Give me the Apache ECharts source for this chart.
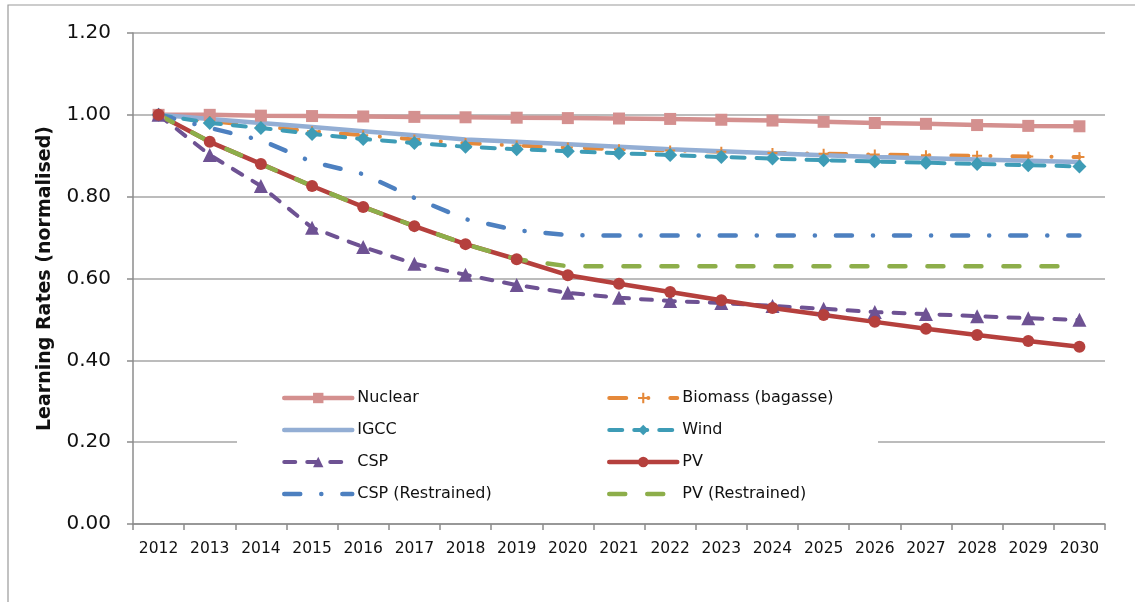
<!DOCTYPE html>
<html>
<head>
<meta charset="utf-8">
<script src="https://cdn.jsdelivr.net/npm/echarts@6/dist/echarts.min.js"></script>
<style>
  html, body { margin: 0; padding: 0; background: #fff; }
  #chart { width: 1135px; height: 602px; }
</style>
</head>
<body>
<div id="chart"></div>
<script>
var years = ['2012', '2013', '2014', '2015', '2016', '2017', '2018', '2019', '2020', '2021',
  '2022', '2023', '2024', '2025', '2026', '2027', '2028', '2029', '2030'];

var nuclear = [1.000, 1.000, 0.998, 0.997, 0.996, 0.995, 0.994, 0.993, 0.992, 0.991,
  0.990, 0.988, 0.986, 0.983, 0.980, 0.978, 0.975, 0.973, 0.972];
var biomass = [1.000, 0.985, 0.972, 0.960, 0.950, 0.940, 0.931, 0.925, 0.920, 0.916,
  0.913, 0.910, 0.907, 0.905, 0.903, 0.901, 0.900, 0.898, 0.897];
var igcc = [1.000, 0.990, 0.980, 0.970, 0.960, 0.950, 0.940, 0.934, 0.928, 0.922,
  0.916, 0.911, 0.906, 0.901, 0.897, 0.894, 0.891, 0.888, 0.885];
var wind = [1.000, 0.980, 0.968, 0.953, 0.941, 0.931, 0.922, 0.916, 0.911, 0.906,
  0.902, 0.897, 0.893, 0.889, 0.886, 0.883, 0.880, 0.877, 0.874];
var csp = [1.000, 0.902, 0.826, 0.724, 0.677, 0.636, 0.609, 0.584, 0.565, 0.553,
  0.545, 0.540, 0.533, 0.526, 0.518, 0.513, 0.508, 0.503, 0.499];
var pv = [1.000, 0.934, 0.880, 0.826, 0.775, 0.728, 0.684, 0.647, 0.608, 0.587,
  0.567, 0.547, 0.528, 0.511, 0.494, 0.477, 0.462, 0.447, 0.433];
var cspRestrained = [1.000, 0.968, 0.938, 0.885, 0.855, 0.797, 0.745, 0.718, 0.706, 0.705,
  0.705, 0.705, 0.705, 0.705, 0.705, 0.705, 0.705, 0.705, 0.705];
var pvRestrained = [1.000, 0.934, 0.880, 0.826, 0.775, 0.728, 0.684, 0.647, 0.630, 0.630,
  0.630, 0.630, 0.630, 0.630, 0.630, 0.630, 0.630, 0.630, 0.630];

var yTicks = [0, 0.2, 0.4, 0.6, 0.8, 1.0, 1.2];

var font = '"DejaVu Sans", sans-serif';
var plusPath = 'path://M4,0H6V4H10V6H6V10H4V6H0V4H4Z';
var noMarker = { opacity: 0 };

function lineSeries(name, data, color, width, dash, symbol, size) {
  return {
    name: name,
    type: 'line',
    data: data,
    symbol: symbol || 'none',
    symbolSize: size || 0,
    showSymbol: !!symbol,
    itemStyle: { color: color, borderWidth: 0 },
    lineStyle: { color: color, width: width, type: dash || 'solid', cap: 'round' },
    emphasis: { disabled: true },
    z: 2
  };
}

var legendBase = {
  orient: 'vertical',
  itemGap: 16,
  itemWidth: 68,
  itemHeight: 13,
  lineStyle: { width: 'inherit', type: 'inherit' },
  z: 4
};

var chart = echarts.init(document.getElementById('chart'), null, { renderer: 'canvas' });
chart.setOption({
  animation: false,
  backgroundColor: '#fff',
  textStyle: { fontFamily: font },
  graphic: [
    {
      type: 'rect',
      shape: { x: 8, y: 5, width: 1140, height: 620 },
      style: { fill: 'none', stroke: '#9a9a9a', lineWidth: 1.2 },
      z: 0
    },
    {
      type: 'rect',
      shape: { x: 237, y: 376, width: 641, height: 132 },
      style: { fill: '#fff' },
      z: 3
    }
  ],
  grid: { left: 133, right: 30, top: 33, bottom: 78 },
  legend: [
    Object.assign({}, legendBase, {
      left: 277, top: 385,
      textStyle: { fontFamily: font, fontSize: 16, color: '#111', padding: [0, 0, 0, 0] },
      data: ['Nuclear', { name: 'IGCC', itemStyle: noMarker }, 'CSP',
        { name: 'CSP (Restrained)', itemStyle: noMarker }]
    }),
    Object.assign({}, legendBase, {
      left: 602, top: 385,
      textStyle: { fontFamily: font, fontSize: 16, color: '#111', padding: [0, 0, 0, 0] },
      data: ['Biomass (bagasse)', 'Wind', 'PV',
        { name: 'PV (Restrained)', itemStyle: noMarker }]
    })
  ],
  xAxis: {
    type: 'category',
    data: years,
    boundaryGap: true,
    axisLine: { lineStyle: { color: '#8c8c8c', width: 1.5 } },
    axisTick: { show: true, length: 6, interval: 0, lineStyle: { color: '#8c8c8c', width: 1.5 } },
    axisLabel: { color: '#111', fontSize: 15.5, margin: 17, interval: 0, fontFamily: font },
    splitLine: { show: false }
  },
  yAxis: {
    type: 'value',
    min: yTicks[0],
    max: yTicks[yTicks.length - 1],
    interval: 0.2,
    name: 'Learning Rates (normalised)',
    nameLocation: 'middle',
    nameGap: 78,
    nameTextStyle: { fontFamily: font, fontSize: 19, fontWeight: 'bold', color: '#111' },
    axisLine: { show: true, lineStyle: { color: '#8c8c8c', width: 1.5 } },
    axisTick: { show: true, length: 6, lineStyle: { color: '#8c8c8c', width: 1.5 } },
    axisLabel: {
      color: '#111', fontSize: 20, margin: 22, fontFamily: font,
      formatter: function(v) { return v.toFixed(2); }
    },
    splitLine: { lineStyle: { color: '#a6a6a6', width: 1.5 } }
  },
  series: [
    lineSeries('Nuclear', nuclear, '#D4908F', 4.5, 'solid', 'rect', 12),
    lineSeries('Biomass (bagasse)', biomass, '#E5893A', 4, [17, 22, 0.1, 22], plusPath, 10),
    lineSeries('IGCC', igcc, '#93AED4', 4.5, 'solid'),
    lineSeries('Wind', wind, '#3E9CB6', 4, [13, 12], 'diamond', 14),
    lineSeries('CSP', csp, '#6E5293', 4, [11, 12], 'triangle', 14),
    lineSeries('PV', pv, '#B5403D', 4.5, 'solid', 'circle', 12),
    lineSeries('CSP (Restrained)', cspRestrained, '#4D80C0', 4.5, [16, 21, 0.1, 21]),
    lineSeries('PV (Restrained)', pvRestrained, '#8DAE4A', 4.5, [16, 22])
  ]
});
</script>
</body>
</html>
